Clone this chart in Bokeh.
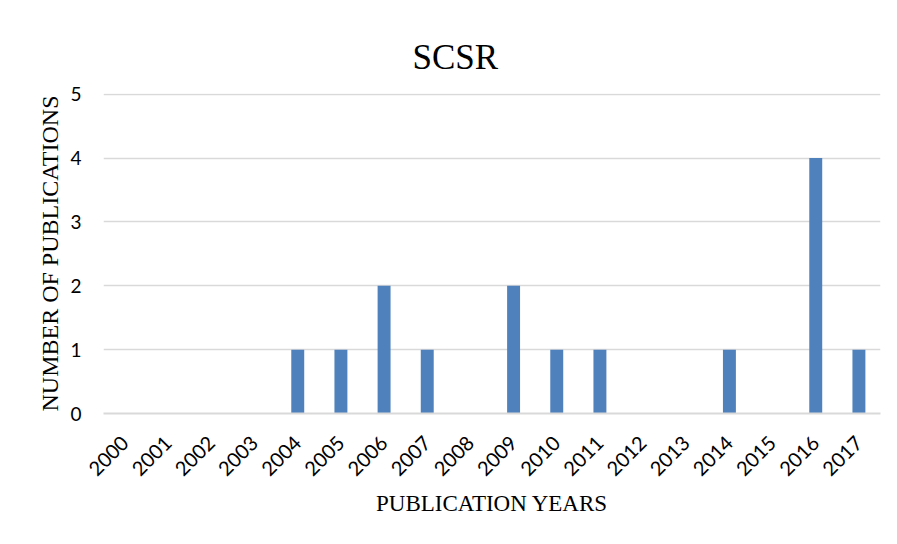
import math
from bokeh.plotting import figure
from bokeh.models import Range1d, FactorRange, ColumnDataSource, Title
from bokeh.embed import file_html
from bokeh.resources import INLINE

years = ["2000", "2001", "2002", "2003", "2004", "2005", "2006", "2007", "2008",
         "2009", "2010", "2011", "2012", "2013", "2014", "2015", "2016", "2017"]
counts = [0, 0, 0, 0, 1, 1, 2, 1, 0, 2, 1, 1, 0, 0, 1, 0, 4, 1]

src = ColumnDataSource(dict(year=years, count=counts))

p = figure(width=881, height=528, x_range=FactorRange(*years), y_range=Range1d(0, 5.01),
           output_backend="svg", toolbar_location=None,
           min_border_left=103, min_border_right=1, min_border_top=93, min_border_bottom=115)

p.vbar(x="year", top="count", width=0.3, source=src, color="#4f81bd", line_color=None)

t = Title(text="SCSR", align="left", offset=309, text_font="Liberation Serif",
          text_font_size="35px", text_font_style="normal", text_color="#000000",
          vertical_align="top", standoff=30)
p.title = t

p.outline_line_color = None
p.background_fill_color = "white"
p.border_fill_color = "white"

p.xgrid.grid_line_color = None
p.ygrid.grid_line_color = "#d9d9d9"
p.ygrid.grid_line_width = 1.5

p.yaxis.ticker = [0, 1, 2, 3, 4, 5]
p.yaxis.axis_line_color = None
p.yaxis.major_tick_line_color = None
p.yaxis.minor_tick_line_color = None
p.yaxis.major_label_text_font = "Lato"
p.yaxis.major_label_text_font_size = "19px"
p.yaxis.major_label_text_color = "#000000"
p.yaxis.major_label_standoff = 16
p.yaxis.axis_label = "NUMBER OF PUBLICATIONS"
p.yaxis.axis_label_text_font = "Liberation Serif"
p.yaxis.axis_label_text_font_size = "24px"
p.yaxis.axis_label_text_font_style = "normal"
p.yaxis.axis_label_text_color = "#000000"
p.yaxis.axis_label_standoff = 4

p.xaxis.axis_line_color = "#d9d9d9"
p.xaxis.axis_line_width = 2
p.xaxis.major_tick_line_color = None
p.xaxis.minor_tick_line_color = None
p.xaxis.major_label_orientation = math.pi / 4
p.xaxis.major_label_text_font = "Lato"
p.xaxis.major_label_text_font_size = "20px"
p.xaxis.major_label_text_color = "#000000"
p.xaxis.major_label_standoff = 20
p.xaxis.axis_label = "PUBLICATION YEARS"
p.xaxis.axis_label_text_font = "Liberation Serif"
p.xaxis.axis_label_text_font_size = "23px"
p.xaxis.axis_label_text_font_style = "normal"
p.xaxis.axis_label_text_color = "#000000"
p.xaxis.axis_label_standoff = 6

p.x_range.range_padding = 0
p.x_range.group_padding = 0

open("out.html", "w").write(file_html(p, INLINE))
